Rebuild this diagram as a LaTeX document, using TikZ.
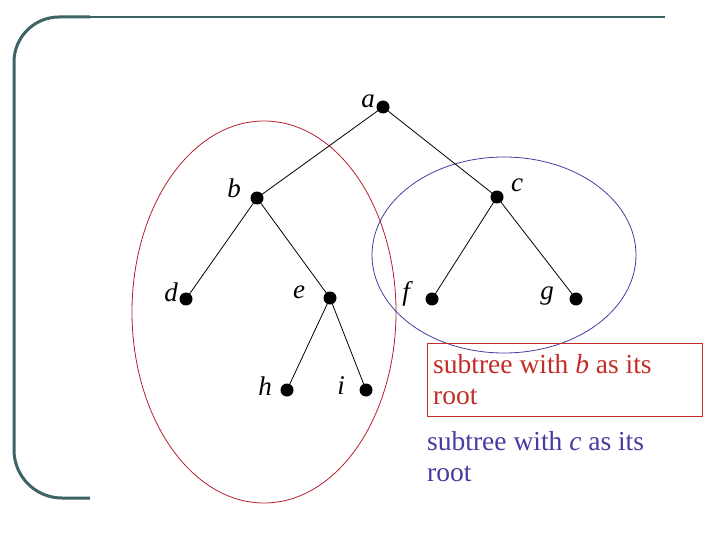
\documentclass[tikz,border=0pt]{standalone}
\usepackage{fontspec}
\setmainfont{Liberation Serif}
\definecolor{frame}{RGB}{60,100,100}
\definecolor{redc}{RGB}{195,45,40}
\definecolor{redline}{RGB}{180,30,45}
\definecolor{bluec}{RGB}{70,60,160}
\begin{document}
\begin{tikzpicture}[x=1pt,y=-1pt,
  dot/.style={circle,fill=black,inner sep=0pt,minimum size=13pt},
  lab/.style={font=\fontsize{27}{27}\selectfont\itshape,inner sep=0pt},
  edge/.style={draw=black,line width=0.8pt},
  txt/.style={font=\fontsize{27.5}{31}\selectfont,align=left,anchor=north west,inner sep=0pt}]
\useasboundingbox (0,0) rectangle (720,540);
% frame
\draw[frame,line width=3pt] (90,17) -- (59,17) arc[start angle=270,end angle=180,radius=45] -- (14,450) arc[start angle=180,end angle=90,radius=48] -- (90,498);
\draw[frame,line width=1.2pt] (90,17) -- (665,17);
% ellipses
\draw[redline,line width=0.8pt] (264,312) ellipse[x radius=132,y radius=191];
\draw[bluec,line width=0.8pt] (504,255) ellipse[x radius=132,y radius=98];
% nodes
\node[dot] (a) at (383,107) {};
\node[dot] (b) at (257,198) {};
\node[dot] (c) at (497,197) {};
\node[dot] (d) at (186,299) {};
\node[dot] (e) at (330,298) {};
\node[dot] (f) at (432,299) {};
\node[dot] (g) at (576,299) {};
\node[dot] (h) at (287,390) {};
\node[dot] (i) at (366,390) {};
% labels
\node[lab] (la) at (368,101) {a};
\node[lab] (lb) at (234,188) {b};
\node[lab] (lc) at (517,185) {c};
\node[lab] (ld) at (171,292) {d};
\node[lab] (le) at (299,292) {e};
\node[lab] (lf) at (406,294) {f};
\node[lab] (lg) at (547,296) {g};
\node[lab] (lh) at (265,386) {h};
\node[lab] (li) at (341,386) {i};
% edges
\draw[edge] (a.center) -- (b.center);
\draw[edge] (a.center) -- (c.center);
\draw[edge] (b.center) -- (d.center);
\draw[edge] (b.center) -- (e.center);
\draw[edge] (c.center) -- (f.center);
\draw[edge] (c.center) -- (g.center);
\draw[edge] (e.center) -- (h.center);
\draw[edge] (e.center) -- (i.center);
% text boxes
\draw[draw=redc,line width=1.2pt] (427.5,343.5) rectangle (702.5,416.5);
\node[txt,text=redc] (tb) at (433,354) {subtree with \textit{b} as its\\root};
\node[txt,text=bluec] (tc) at (427,431) {subtree with \textit{c} as its\\root};
\end{tikzpicture}
\end{document}
